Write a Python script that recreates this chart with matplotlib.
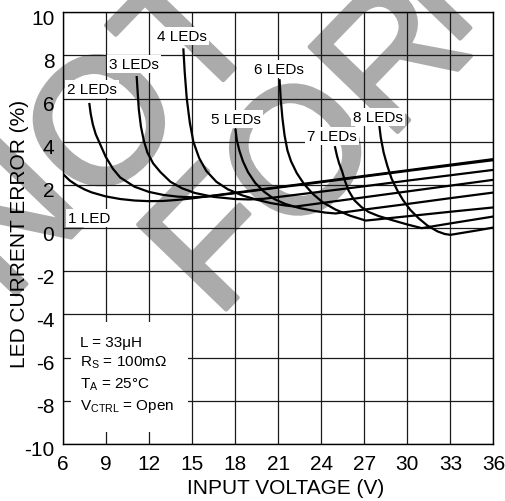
import matplotlib
matplotlib.use("Agg")
import matplotlib.pyplot as plt
import matplotlib.transforms as mtransforms
import matplotlib.patheffects as pe

plt.rcParams['font.family'] = ['Liberation Sans', 'DejaVu Sans']
plt.rcParams['mathtext.fontset'] = 'custom'
plt.rcParams['mathtext.rm'] = 'Liberation Sans'
plt.rcParams['mathtext.it'] = 'Liberation Sans:italic'
plt.rcParams['axes.unicode_minus'] = False

# ---------------- data ----------------
v1 = [6, 6.5, 7, 7.5, 8, 9, 10, 11, 12, 13, 14, 15, 18, 21, 24, 27, 30, 33, 36]
e1 = [2.52, 2.2, 1.98, 1.8, 1.66, 1.47, 1.35, 1.28, 1.25, 1.26, 1.31, 1.38, 1.64, 1.9, 2.16, 2.42, 2.68, 2.94, 3.2]

v2 = [7.85, 7.95, 8.1, 8.3, 8.6, 9.0, 9.5, 10, 11, 12, 13, 14, 15, 16, 18, 21, 24, 27, 30, 33, 36]
e2 = [5.8, 5.3, 4.8, 4.35, 3.9, 3.3, 2.75, 2.35, 1.92, 1.68, 1.54, 1.46, 1.43, 1.46, 1.62, 1.88, 2.13, 2.39, 2.65, 2.9, 3.15]

v3 = [11.15, 11.22, 11.3, 11.45, 11.65, 11.9, 12.3, 12.8, 13.5, 14.3, 15.2, 16.5, 18, 19, 20, 24, 27, 30, 33, 36]
e3 = [7.05, 6.3, 5.5, 4.7, 4.05, 3.5, 3.0, 2.6, 2.15, 1.85, 1.63, 1.45, 1.35, 1.33, 1.36, 1.69, 1.94, 2.2, 2.45, 2.7]

v4 = [14.4, 14.5, 14.64, 14.85, 15.1, 15.5, 16, 16.7, 17.5, 18.5, 19.5, 20.5, 21.5, 22.2, 24, 27, 30, 33, 36]
e4 = [8.33, 7.2, 6.0, 4.9, 4.0, 3.25, 2.65, 2.15, 1.8, 1.52, 1.32, 1.16, 1.05, 1.0, 1.16, 1.43, 1.7, 1.97, 2.24]

v5 = [18.03, 18.12, 18.3, 18.55, 18.9, 19.4, 20.0, 20.7, 21.5, 22.5, 23.5, 24.3, 25.0, 27, 30, 33, 36]
e5 = [4.6, 4.1, 3.6, 3.1, 2.6, 2.1, 1.7, 1.36, 1.12, 0.93, 0.8, 0.72, 0.68, 0.86, 1.12, 1.39, 1.65]

v6 = [21.1, 21.18, 21.3, 21.45, 21.65, 21.9, 22.3, 22.8, 23.4, 24.1, 25, 26, 27.1, 30, 33, 36]
e6 = [6.9, 6.0, 5.1, 4.3, 3.6, 3.1, 2.55, 2.05, 1.6, 1.2, 0.86, 0.58, 0.35, 0.55, 0.76, 0.96]

v7 = [24.95, 25.1, 25.25, 25.45, 25.65, 25.9, 26.3, 26.8, 27.3, 28, 29, 30, 31, 33, 36]
e7 = [3.8, 3.35, 3.0, 2.65, 2.2, 1.75, 1.3, 0.98, 0.75, 0.56, 0.36, 0.17, 0.0, 0.22, 0.54]

v8 = [28.05, 28.15, 28.35, 28.6, 28.9, 29.3, 29.7, 30.2, 30.8, 31.4, 32.1, 32.6, 33, 34, 35, 36]
e8 = [4.75, 4.2, 3.5, 2.9, 2.3, 1.75, 1.3, 0.85, 0.45, 0.12, -0.15, -0.27, -0.31, -0.2, -0.09, 0.03]

curve_v = [v1, v2, v3, v4, v5, v6, v7, v8]
curve_e = [e1, e2, e3, e4, e5, e6, e7, e8]
curve_labels = ["1 LED", "2 LEDs", "3 LEDs", "4 LEDs", "5 LEDs", "6 LEDs", "7 LEDs", "8 LEDs"]
label_v = [6.4, 6.3, 9.25, 12.55, 16.3, 19.3, 23.0, 26.2]
label_e = [0.48, 6.45, 7.6, 8.9, 5.06, 7.37, 4.27, 5.16]

x_ticks = [6, 9, 12, 15, 18, 21, 24, 27, 30, 33, 36]
y_ticks = [-10, -8, -6, -4, -2, 0, 2, 4, 6, 8, 10]

cond_lines = ["L = 33μH",
              r"R$_{\mathregular{S}}$ = 100mΩ",
              r"T$_{\mathregular{A}}$ = 25°C",
              r"V$_{\mathregular{CTRL}}$ = Open"]

# ---------------- figure ----------------
W, H = 506, 502
fig = plt.figure(figsize=(W / 100, H / 100), dpi=100)
fig.patch.set_facecolor('white')

# watermark (behind everything)
wm_col = '#ababab'
wm = dict(rotation=46, rotation_mode='anchor', ha='left', va='baseline',
          fontsize=128, fontweight='normal', color=wm_col, zorder=-5,
          family='Liberation Sans',
          path_effects=[pe.withStroke(linewidth=3, foreground=wm_col)])
fig.text(6 / W, 1 - 306 / H, "NOT", **wm)
fig.text(216 / W, 1 - 321 / H, "FOR", **wm)
fig.text(450 / W, 1 - 50 / H, "N", **wm)

ax = fig.add_axes([62.7 / W, 1 - 445 / H, (493.5 - 62.7) / W, (445 - 13.3) / H])
ax.set_facecolor('none')
ax.set_xlim(6, 36)
ax.set_ylim(-10, 10)
ax.set_xticks(x_ticks)
ax.set_yticks(y_ticks)
ax.grid(True, color='#1a1a1a', lw=0.9, zorder=1)
ax.set_axisbelow(True)
for s in ax.spines.values():
    s.set_color('black')
    s.set_linewidth(1.0)
ax.tick_params(length=0, labelsize=15, colors='black')
ax.tick_params(axis='x', pad=7)
ax.tick_params(axis='y', pad=6)
off = mtransforms.ScaledTranslation(0, -4 / 100, fig.dpi_scale_trans)
for lab in ax.get_yticklabels():
    lab.set_transform(lab.get_transform() + off)

for v, e in zip(curve_v, curve_e):
    ax.plot(v, e, color='black', lw=1.6, zorder=3, solid_capstyle='butt')

for txt, lv, le in zip(curve_labels, label_v, label_e):
    ax.text(lv, le, txt, fontsize=11, ha='left', va='center', zorder=4,
            bbox=dict(facecolor='white', edgecolor='none', pad=1.5))

# conditions box
ax.add_patch(plt.Rectangle((0.02, 0.028), 0.27, 0.255, transform=ax.transAxes,
                           facecolor='white', edgecolor='none', zorder=2))
cond_y = [343, 363, 385, 407]
for txt, py in zip(cond_lines, cond_y):
    ax.text((80 - 62.7) / 430.8, (445 - py) / 431.7, txt, transform=ax.transAxes,
            fontsize=11, ha='left', va='center', zorder=4)

ax.set_xlabel("INPUT VOLTAGE (V)", fontsize=15)
ax.set_ylabel("LED CURRENT ERROR (%)", fontsize=15)
ax.xaxis.set_label_coords(0.518, -0.078)
ax.yaxis.set_label_coords(-0.078, 0.489)

fig.savefig("out.png", dpi=100, facecolor='white')
